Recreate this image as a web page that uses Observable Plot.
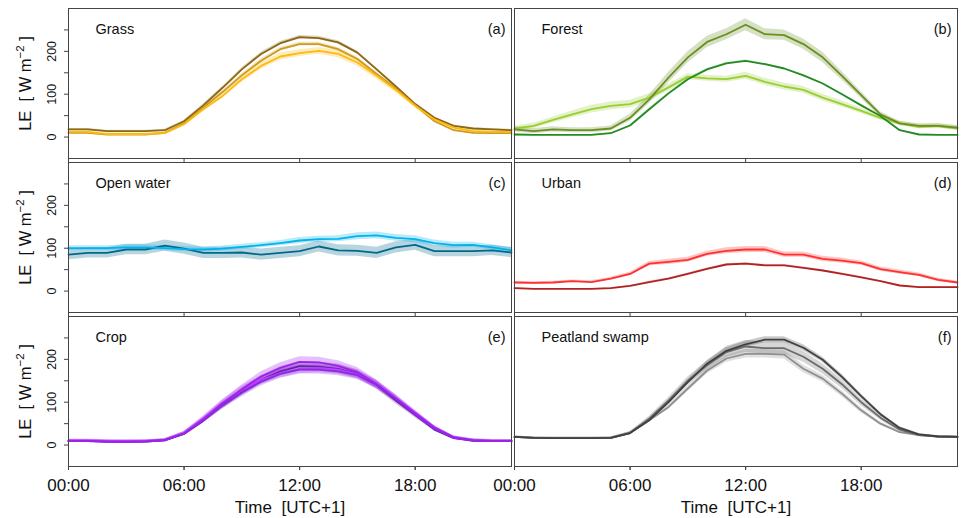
<!DOCTYPE html>
<html><head><meta charset="utf-8">
<script src="https://cdn.jsdelivr.net/npm/d3@7"></script>
<script src="https://cdn.jsdelivr.net/npm/@observablehq/plot@0.6"></script>
<style>
body{margin:0;background:#fff;}
#chart svg{font-family:"Liberation Sans",Arial,Helvetica,sans-serif;}
</style>
</head><body><div id="chart"></div>
<script>
// ---------- data ----------
const hours = [0,1,2,3,4,5,6,7,8,9,10,11,12,13,14,15,16,17,18,19,20,21,22,23];
const xTicks = [0,6,12,18];
const yTicks = [0,50,100,150,200,250];
const yTickLabels = [0,100,200];

const panelNames = ["Grass","Forest","Open water","Urban","Crop","Peatland swamp"];
const panelTags  = ["(a)","(b)","(c)","(d)","(e)","(f)"];
const panelCols  = ["L","R","L","R","L","R"];
const panelRows  = [0,0,1,1,2,2];

// (a) Grass
const grassDark  = [18,18,14,14,14,16,37,74,115,158,194,219,233,231,221,197,158,118,77,45,26,20,18,16];
const grassDarkSd= [2,2,2,2,2,2,2,3,3,3,4,4,4,4,4,3,3,3,3,2,2,2,2,2];
const grassMid   = [10,10,6,6,6,10,32,69,105,144,178,205,217,217,205,182,147,113,74,37,16,10,9,9];
const grassMidSd = [2,2,2,2,2,2,2,3,3,4,4,4,4,4,4,4,3,3,3,2,2,2,2,2];
const grassLight = [12,12,7,7,7,9,30,65,96,135,166,188,196,201,194,174,143,110,73,41,22,14,12,12];
const grassLightSd=[3,3,3,3,3,3,4,5,6,7,8,8,8,8,9,9,8,7,5,4,3,3,3,3];

// (b) Forest
const forestOlive  = [18,14,18,16,16,20,45,88,139,186,222,240,262,240,238,217,186,143,98,53,32,26,26,22];
const forestOliveSd= [6,6,6,6,6,6,8,10,12,13,13,13,14,13,12,12,12,10,8,6,5,5,5,5];
const forestGreen  = [6,5,5,5,5,9,27,65,102,135,158,172,178,170,160,144,125,100,74,49,16,6,5,5];
const forestGreenSd= [1,1,1,1,1,1,1,2,2,2,2,2,2,2,2,2,2,2,2,1,1,1,1,1];
const forestLight  = [20,26,40,53,65,73,77,92,116,141,137,135,143,129,118,110,92,77,61,45,32,24,26,20];
const forestLightSd= [5,6,7,8,9,9,9,9,8,7,7,7,8,8,8,8,8,7,6,6,5,5,5,5];

// (c) Open water
const waterLight  = [100,100,100,102,102,100,98,97,99,103,107,112,118,121,122,128,130,124,121,112,107,108,102,95];
const waterLightSd= [6,6,6,6,6,6,6,6,6,6,6,6,7,7,7,8,8,8,8,7,7,6,6,6];
const waterDark   = [85,89,89,97,97,106,99,89,89,90,85,89,93,104,95,94,89,102,108,93,93,93,95,90];
const waterDarkSd = [12,12,12,12,12,13,13,13,13,13,13,13,13,13,13,13,13,13,13,13,13,13,12,12];

// (d) Urban
const urbanRed   = [20,19,20,23,21,29,40,64,68,73,87,94,97,97,85,85,75,71,65,51,44,38,26,20];
const urbanRedSd = [3,3,3,3,3,3,4,5,6,6,6,7,7,7,6,6,6,6,5,5,5,4,4,3];
const urbanDark  = [7,5,5,5,5,7,12,21,29,40,52,62,64,60,60,54,48,40,32,23,13,9,9,9];
const urbanDarkSd= [1,1,1,1,1,1,1,2,2,2,2,2,2,2,2,2,2,2,2,1,1,1,1,1];

// (e) Crop
const crop1   = [9,9,8,7,8,11,27,60,97,130,160,180,194,193,185,170,142,108,72,38,17,11,9,9];
const crop1Sd = [3,3,3,3,3,3,4,6,8,10,11,12,12,12,12,11,10,8,6,4,3,3,3,3];
const crop2   = [9,9,8,8,8,11,26,57,93,124,152,172,184,183,178,166,140,104,70,36,16,10,9,9];
const crop2Sd = [3,3,3,3,3,3,4,6,8,9,10,11,11,11,11,10,9,8,6,4,3,3,3,3];
const crop3   = [10,10,8,8,9,12,27,58,92,122,148,166,176,176,172,163,140,108,74,40,18,11,10,10];
const crop3Sd = [3,3,3,3,3,3,4,6,8,9,10,10,10,10,10,10,9,8,6,4,3,3,3,3];
const crop4   = [11,11,10,10,10,12,28,62,98,128,152,168,178,180,176,165,143,110,76,42,19,12,10,10];
const crop4Sd = [3,3,3,3,3,3,4,6,8,9,10,11,11,11,11,10,9,8,6,4,3,3,3,3];

// (f) Peatland swamp
const peatDark    = [19,17,16,16,16,17,28,58,100,147,190,220,235,246,246,227,199,159,114,72,40,25,20,19];
const peatDarkSd  = [2,2,2,2,2,2,3,4,5,6,6,7,7,7,7,7,6,6,5,4,3,2,2,2];
const peatMid     = [19,17,16,16,16,17,28,62,104,150,186,217,230,226,226,206,178,142,100,64,36,23,20,19];
const peatMidSd   = [2,2,2,2,2,2,3,5,7,9,11,13,14,14,14,13,12,10,8,6,4,3,2,2];
const peatLight   = [19,17,16,16,16,17,28,58,89,132,174,202,213,213,211,178,155,120,81,50,30,23,20,19];
const peatLightSd = [2,2,2,2,2,2,3,4,6,7,8,9,10,10,10,9,8,7,6,4,3,2,2,2];

const seriesList = [
  {p:0, c:"#8B6914", v:grassDark,  s:grassDarkSd},
  {p:0, c:"#CD9B1D", v:grassMid,   s:grassMidSd},
  {p:0, c:"#FFB90F", v:grassLight, s:grassLightSd},
  {p:1, c:"#9ACD32", v:forestLight, s:forestLightSd},
  {p:1, c:"#228B22", v:forestGreen, s:forestGreenSd},
  {p:1, c:"#6B8E23", v:forestOlive, s:forestOliveSd},
  {p:2, c:"#00688B", v:waterDark,  s:waterDarkSd},
  {p:2, c:"#00B2EE", v:waterLight, s:waterLightSd},
  {p:3, c:"#FF3030", v:urbanRed,  s:urbanRedSd},
  {p:3, c:"#B22222", v:urbanDark, s:urbanDarkSd},
  {p:4, c:"#5E2A9E", v:crop2, s:crop2Sd},
  {p:4, c:"#BF3EFF", v:crop4, s:crop4Sd},
  {p:4, c:"#8A2BE2", v:crop3, s:crop3Sd},
  {p:4, c:"#A020F0", v:crop1, s:crop1Sd},
  {p:5, c:"#8F8F8F", v:peatLight, s:peatLightSd},
  {p:5, c:"#6B6B6B", v:peatMid,   s:peatMidSd},
  {p:5, c:"#404040", v:peatDark,  s:peatDarkSd}
];

// ---------- table ----------
const rows = [];
seriesList.forEach((sr, k) => {
  hours.forEach((h, i) => {
    rows.push({sid:k, col:panelCols[sr.p], row:panelRows[sr.p], hour:h,
      value:sr.v[i], lo:sr.v[i]-sr.s[i], hi:sr.v[i]+sr.s[i], color:sr.c});
  });
});
const panels = panelNames.map((n,i)=>({name:n, tag:panelTags[i], col:panelCols[i], row:panelRows[i]}));
const leftRows = [0,1,2];
const yLabRows = leftRows.map(r=>({row:r}));
const yTickRows = leftRows.flatMap(r=>yTickLabels.map(v=>({row:r, v})));
const xLabRows = ["L","R"].map(c=>({col:c, row:2}));
const YLAB = "LE  [ W m-2 ]";
const fmt = d => (d<10?"0":"")+d+":00";

const chart = Plot.plot({
  width: 961, height: 518,
  marginLeft: 67, marginRight: 3, marginTop: 8, marginBottom: 52,
  fx: {domain:["L","R"], padding:0.006, axis:null},
  fy: {domain:[0,1,2], padding:0.026, axis:null},
  x: {domain:[0,23], label:null},
  y: {domain:[-50,300], label:null},
  color: {type:"identity"},
  marks: [
    Plot.areaY(rows, {x:"hour", y1:"lo", y2:"hi", z:"sid", fill:"color", fillOpacity:0.28, fx:"col", fy:"row"}),
    Plot.lineY(rows, {x:"hour", y:"value", z:"sid", stroke:"color", strokeWidth:1.8, fx:"col", fy:"row"}),
    Plot.frame({stroke:"#444", strokeWidth:1}),
    Plot.axisY({ticks:yTicks, tickSize:4, tickFormat:()=>"", stroke:"#444", label:null}),
    Plot.axisX({ticks:xTicks, tickSize:4, tickFormat:()=>"", stroke:"#444", label:null, facetAnchor:null}),
    Plot.axisX({ticks:xTicks, tickSize:4, tickPadding:8, tickFormat:fmt, fontSize:17, fill:"#111", stroke:"#444", label:null}),
    Plot.text(panels, {fx:"col", fy:"row", text:"name", frameAnchor:"top-left", dx:27, dy:15, fontSize:14.5, fill:"#111"}),
    Plot.text(panels, {fx:"col", fy:"row", text:"tag", frameAnchor:"top-right", dx:-6, dy:15, fontSize:14.5, fill:"#111"}),
    Plot.text(yTickRows, {fx:()=>"L", fy:"row", y:"v", text:d=>String(d.v), frameAnchor:"left", dx:-17, rotate:-90, textAnchor:"middle", lineAnchor:"middle", fontSize:12.5, fill:"#111"}),
    Plot.text(yLabRows, {fx:()=>"L", fy:"row", text:()=>YLAB, frameAnchor:"left", dx:-43, rotate:-90, textAnchor:"middle", lineAnchor:"middle", fontSize:16.5, fill:"#111"}),
    Plot.text(xLabRows, {fx:"col", fy:"row", text:()=>"Time  [UTC+1]", frameAnchor:"bottom", dy:34, lineAnchor:"top", fontSize:17, fill:"#111"})
  ]
});
document.getElementById("chart").appendChild(chart);

// superscript in y label
d3.select(chart).selectAll("text").filter(function(){ return this.textContent === YLAB; }).each(function(){
  const t = d3.select(this);
  t.text(null);
  t.append("tspan").text("LE  [ W m");
  t.append("tspan").attr("dy","-7").attr("font-size","11.5").text("\u22122");
  t.append("tspan").attr("dy","7").text(" ]");
});
</script>
</body></html>
